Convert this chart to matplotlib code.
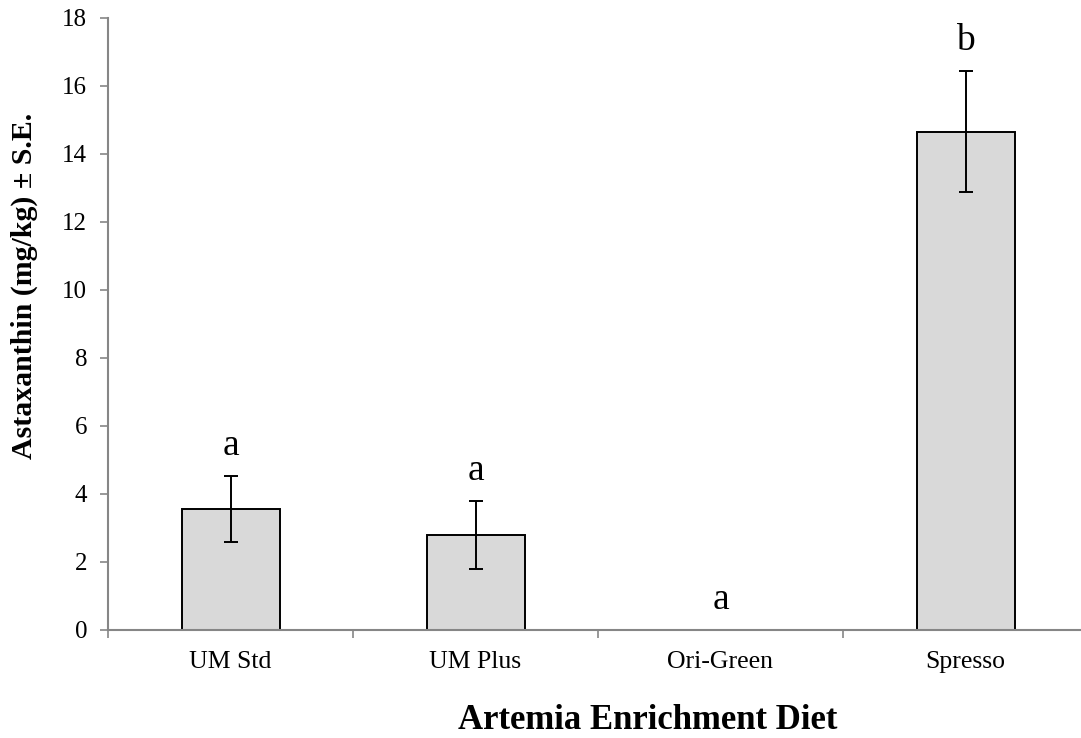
import numpy as np
import matplotlib.pyplot as plt

# Astaxanthin content per enrichment diet (mean and standard error)
diets = ["UM Std", "UM Plus", "Ori-Green", "Spresso"]
astaxanthin = [3.56, 2.79, 0.0, 14.66]
std_err = [0.97, 1.00, 0.0, 1.77]
groups = ["a", "a", "a", "b"]

plt.rcParams['font.family'] = ['Liberation Serif', 'DejaVu Serif']

W, H = 1081, 738
fig = plt.figure(figsize=(W / 100, H / 100), dpi=100)
ax = fig.add_axes([108 / W, (H - 630) / H, 980 / W, 612 / H])

x = np.arange(len(diets))
ax.bar(x, astaxanthin, width=0.4, color='#d9d9d9', edgecolor='black', linewidth=1.4, zorder=2)

# error bars only where there is a bar
has_err = np.array(std_err) > 0
ax.errorbar(x[has_err], np.array(astaxanthin)[has_err], yerr=np.array(std_err)[has_err],
            fmt='none', ecolor='black', elinewidth=1.4, capsize=5, capthick=1.4, zorder=3)

# significance letters above each bar
for xi, v, e, g in zip(x, astaxanthin, std_err, groups):
    ax.text(xi, v + e + 0.9, g, ha='center', va='center', fontsize=27)

ax.set_xlim(-0.5, 3.5)
ax.set_ylim(0, 18)
ax.set_yticks(np.arange(0, 19, 2))

ax.set_xticks(x)
ax.set_xticklabels(diets, fontsize=18.5)
ax.set_xticks(np.arange(-0.5, 4, 1), minor=True)
ax.tick_params(axis='x', which='major', length=0, pad=15)
ax.tick_params(axis='x', which='minor', length=6, width=1.2, color='#868686', direction='out')
ax.tick_params(axis='y', length=6, width=1.2, color='#868686', labelsize=18, pad=9)

for side in ['top', 'right']:
    ax.spines[side].set_visible(False)
for side in ['left', 'bottom']:
    ax.spines[side].set_color('#868686')
    ax.spines[side].set_linewidth(1.5)

fig.text(648 / W, (H - 729) / H, "Artemia Enrichment Diet", ha='center', va='baseline',
         fontsize=25, fontweight='bold')
fig.text(24 / W, (H - 286) / H, "Astaxanthin (mg/kg) \u00b1 S.E.", ha='center', va='center',
         rotation=90, fontsize=21.5, fontweight='bold')

fig.savefig("out.png", dpi=100)
